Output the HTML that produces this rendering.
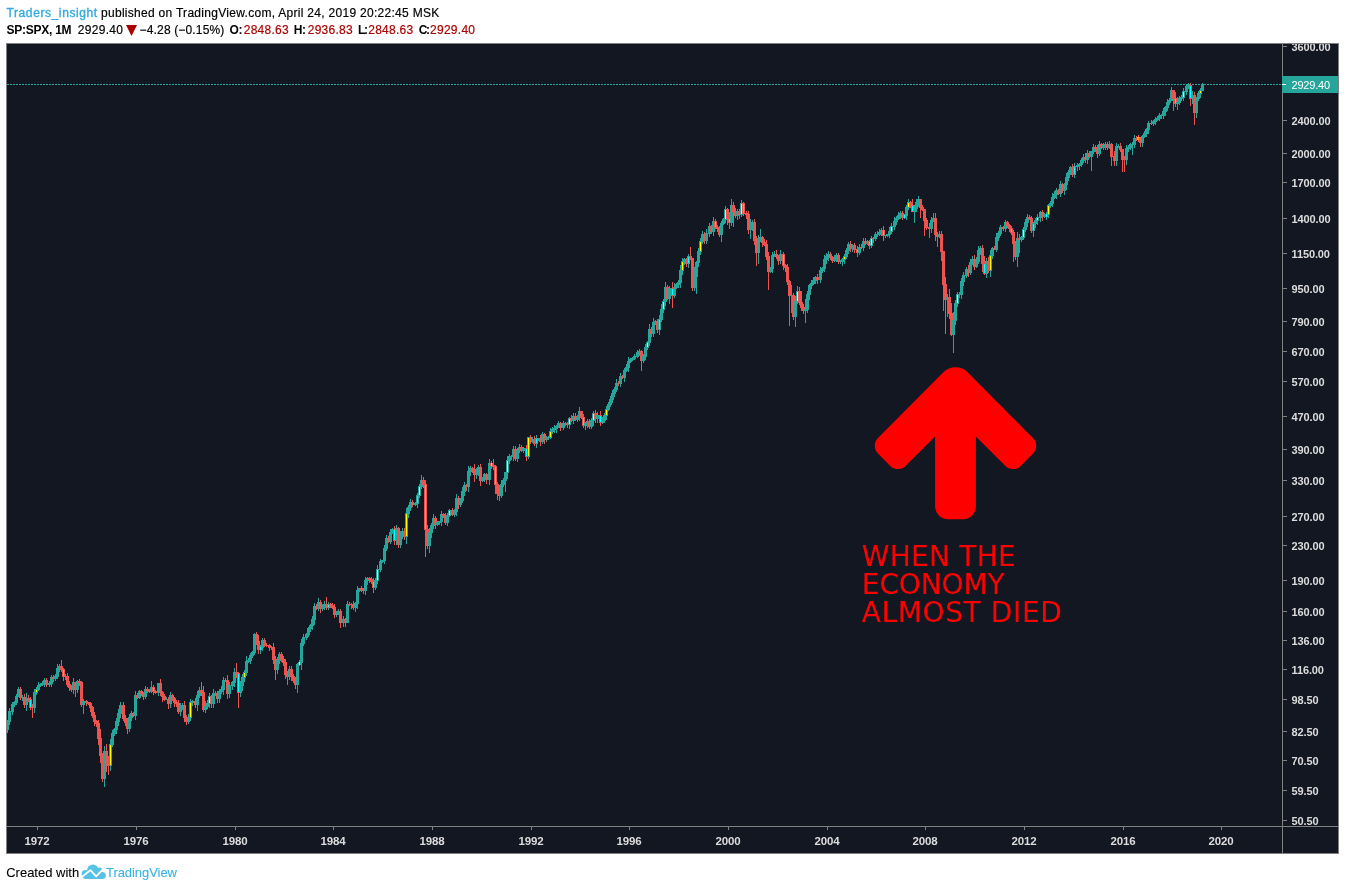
<!DOCTYPE html>
<html><head><meta charset="utf-8"><title>SPX chart</title>
<style>
html,body{margin:0;padding:0;background:#fff}
body{width:1345px;height:890px;position:relative;overflow:hidden;font-family:"Liberation Sans",sans-serif;color:#000}
.h{position:absolute;left:6px;white-space:nowrap;font-size:12px;line-height:16px}
.h span{position:absolute;top:0;white-space:nowrap}
.h span{-webkit-text-stroke:0.18px currentColor} .r{color:#aa0000} .b{font-weight:bold} .h .b{-webkit-text-stroke:0} .h .u{color:#30a9e0;-webkit-text-stroke:0.35px #30a9e0}
</style></head><body>
<div class="h" id="l1" style="top:5px"><span class="u" id="s1" style="left:0.5px;letter-spacing:0.6px">Traders_insight</span><span id="s2" style="left:95px;letter-spacing:0.29px">published on TradingView.com, April 24, 2019 20:22:45 MSK</span></div>
<div class="h" id="l2" style="top:22px"><span class="b" id="s3" style="left:0.5px;letter-spacing:-0.25px">SP:SPX, 1M</span><span id="s4" style="left:71.7px;letter-spacing:0.33px">2929.40</span><span id="s5" style="left:133.6px;letter-spacing:0.15px">−4.28 (−0.15%)</span><span class="b" id="s6" style="left:223.6px;letter-spacing:-0.5px">O:</span><span class="r" id="s7" style="left:237.7px;letter-spacing:0.27px">2848.63</span><span class="b" id="s8" style="left:287.7px;letter-spacing:-0.3px">H:</span><span class="r" id="s9" style="left:301.7px;letter-spacing:0.27px">2936.83</span><span class="b" id="s10" style="left:351.9px;letter-spacing:-1.2px">L:</span><span class="r" id="s11" style="left:362.2px;letter-spacing:0.27px">2848.63</span><span class="b" id="s12" style="left:412.8px;letter-spacing:-1.4px">C:</span><span class="r" id="s13" style="left:424.0px;letter-spacing:0.27px">2929.40</span></div>
<div class="h" id="l3" style="top:865px;font-size:13px"><span id="s14" style="left:0.2px;-webkit-text-stroke:0.08px #000">Created with</span><span class="u" id="s15" style="left:100px;letter-spacing:-0.06px;-webkit-text-stroke:0.1px #3bb3e4;color:#3bb3e4">TradingView</span></div>
<svg width="1345" height="890" viewBox="0 0 1345 890" style="position:absolute;left:0;top:0">
<defs><clipPath id="cp"><rect x="7" y="44" width="1275" height="782"/></clipPath><clipPath id="cpa"><rect x="1283" y="44" width="55" height="782"/></clipPath></defs>
<rect x="6" y="43" width="1333" height="811" fill="#808080"/>
<rect x="7" y="44" width="1331" height="809" fill="#131722"/>
<g clip-path="url(#cp)" shape-rendering="crispEdges">
<path d="M7 84.5H1282" stroke="#26a69a" stroke-width="1" stroke-dasharray="2 1" fill="none"/>
<path d="M5 726h1V732h-1zM4 727h3V730h-3z" fill="#ef5350"/>
<path d="M7 720h1V733h-1zM6 721h3V730h-3z" fill="#26a69a"/>
<path d="M9 708h1V725h-1zM8 711h3V722h-3z" fill="#26a69a"/>
<path d="M12 702h1V715h-1zM11 704h3V712h-3z" fill="#26a69a"/>
<path d="M14 701h1V707h-1zM13 702h3V705h-3z" fill="#26a69a"/>
<path d="M16 694h1V705h-1zM15 696h3V703h-3z" fill="#26a69a"/>
<path d="M18 687h1V697h-1zM17 689h3V697h-3z" fill="#26a69a"/>
<path d="M20 687h1V700h-1zM19 689h3V698h-3z" fill="#ef5350"/>
<path d="M22 695h1V701h-1zM21 697h3V698h-3z" fill="#26a69a"/>
<path d="M24 694h1V708h-1zM23 697h3V705h-3z" fill="#ef5350"/>
<path d="M26 693h1V711h-1zM25 698h3V705h-3z" fill="#26a69a"/>
<path d="M28 695h1V702h-1zM27 698h3V700h-3z" fill="#ef5350"/>
<path d="M30 697h1V710h-1zM29 699h3V708h-3z" fill="#ef5350"/>
<path d="M30 700h1V707h-1z" fill="#00ffff"/>
<path d="M32 704h1V718h-1zM31 707h3V708h-3z" fill="#ef5350"/>
<path d="M34 689h1V713h-1zM33 692h3V708h-3z" fill="#26a69a"/>
<path d="M36 687h1V695h-1zM35 689h3V693h-3z" fill="#26a69a"/>
<path d="M36 690h1V692h-1z" fill="#ffff00"/>
<path d="M38 682h1V691h-1zM37 685h3V690h-3z" fill="#26a69a"/>
<path d="M40 683h1V687h-1zM39 684h3V686h-3z" fill="#26a69a"/>
<path d="M42 681h1V686h-1zM41 683h3V685h-3z" fill="#26a69a"/>
<path d="M44 678h1V687h-1zM43 680h3V684h-3z" fill="#26a69a"/>
<path d="M46 678h1V687h-1zM45 680h3V685h-3z" fill="#ef5350"/>
<path d="M49 681h1V687h-1zM48 683h3V685h-3z" fill="#26a69a"/>
<path d="M51 675h1V687h-1zM50 677h3V684h-3z" fill="#26a69a"/>
<path d="M53 675h1V682h-1zM52 677h3V679h-3z" fill="#ef5350"/>
<path d="M55 674h1V681h-1zM54 676h3V679h-3z" fill="#26a69a"/>
<path d="M57 664h1V679h-1zM56 668h3V677h-3z" fill="#26a69a"/>
<path d="M59 664h1V672h-1zM58 666h3V669h-3z" fill="#26a69a"/>
<path d="M61 660h1V672h-1zM60 666h3V670h-3z" fill="#ef5350"/>
<path d="M63 668h1V681h-1zM62 669h3V677h-3z" fill="#ef5350"/>
<path d="M63 670h1V676h-1z" fill="#00ffff"/>
<path d="M65 674h1V680h-1zM64 676h3V677h-3z" fill="#ef5350"/>
<path d="M67 673h1V687h-1zM66 676h3V685h-3z" fill="#ef5350"/>
<path d="M69 681h1V691h-1zM68 684h3V688h-3z" fill="#ef5350"/>
<path d="M71 685h1V692h-1zM70 687h3V690h-3z" fill="#ef5350"/>
<path d="M73 678h1V694h-1zM72 682h3V690h-3z" fill="#26a69a"/>
<path d="M75 682h1V697h-1zM74 682h3V690h-3z" fill="#ef5350"/>
<path d="M77 680h1V693h-1zM76 681h3V690h-3z" fill="#26a69a"/>
<path d="M79 679h1V686h-1zM78 681h3V683h-3z" fill="#ef5350"/>
<path d="M81 681h1V707h-1zM80 682h3V705h-3z" fill="#ef5350"/>
<path d="M83 699h1V714h-1zM82 701h3V705h-3z" fill="#26a69a"/>
<path d="M86 700h1V706h-1zM85 701h3V703h-3z" fill="#ef5350"/>
<path d="M88 702h1V705h-1zM87 702h3V704h-3z" fill="#ef5350"/>
<path d="M90 702h1V712h-1zM89 703h3V708h-3z" fill="#ef5350"/>
<path d="M92 706h1V718h-1zM91 707h3V716h-3z" fill="#ef5350"/>
<path d="M94 712h1V726h-1zM93 715h3V722h-3z" fill="#ef5350"/>
<path d="M96 720h1V727h-1zM95 721h3V724h-3z" fill="#ef5350"/>
<path d="M98 720h1V745h-1zM97 723h3V739h-3z" fill="#ef5350"/>
<path d="M100 729h1V763h-1zM99 738h3V756h-3z" fill="#ef5350"/>
<path d="M102 753h1V782h-1zM101 755h3V779h-3z" fill="#ef5350"/>
<path d="M104 746h1V787h-1zM103 751h3V779h-3z" fill="#26a69a"/>
<path d="M106 744h1V772h-1zM105 751h3V762h-3z" fill="#ef5350"/>
<path d="M108 756h1V775h-1zM107 761h3V766h-3z" fill="#ef5350"/>
<path d="M110 739h1V771h-1zM109 744h3V766h-3z" fill="#26a69a"/>
<path d="M110 745h1V765h-1z" fill="#ffff00"/>
<path d="M112 730h1V747h-1zM111 733h3V745h-3z" fill="#26a69a"/>
<path d="M114 728h1V736h-1zM113 729h3V734h-3z" fill="#26a69a"/>
<path d="M116 718h1V734h-1zM115 721h3V730h-3z" fill="#26a69a"/>
<path d="M118 709h1V726h-1zM117 713h3V722h-3z" fill="#26a69a"/>
<path d="M120 702h1V718h-1zM119 705h3V714h-3z" fill="#26a69a"/>
<path d="M123 702h1V721h-1zM122 705h3V719h-3z" fill="#ef5350"/>
<path d="M125 715h1V726h-1zM124 718h3V723h-3z" fill="#ef5350"/>
<path d="M127 718h1V734h-1zM126 722h3V729h-3z" fill="#ef5350"/>
<path d="M129 714h1V732h-1zM128 717h3V729h-3z" fill="#26a69a"/>
<path d="M131 711h1V721h-1zM130 713h3V718h-3z" fill="#26a69a"/>
<path d="M133 712h1V717h-1zM132 713h3V716h-3z" fill="#ef5350"/>
<path d="M135 691h1V720h-1zM134 695h3V716h-3z" fill="#26a69a"/>
<path d="M137 693h1V699h-1zM136 695h3V698h-3z" fill="#ef5350"/>
<path d="M139 690h1V699h-1zM138 691h3V698h-3z" fill="#26a69a"/>
<path d="M141 690h1V696h-1zM140 691h3V694h-3z" fill="#ef5350"/>
<path d="M143 692h1V700h-1zM142 693h3V697h-3z" fill="#ef5350"/>
<path d="M145 686h1V699h-1zM144 689h3V697h-3z" fill="#26a69a"/>
<path d="M147 687h1V693h-1zM146 689h3V691h-3z" fill="#ef5350"/>
<path d="M149 689h1V693h-1zM148 690h3V692h-3z" fill="#ef5350"/>
<path d="M151 681h1V693h-1zM150 687h3V692h-3z" fill="#26a69a"/>
<path d="M153 685h1V695h-1zM152 687h3V692h-3z" fill="#ef5350"/>
<path d="M153 688h1V691h-1z" fill="#00ffff"/>
<path d="M155 690h1V694h-1zM154 691h3V693h-3z" fill="#ef5350"/>
<path d="M158 683h1V696h-1zM157 683h3V693h-3z" fill="#26a69a"/>
<path d="M160 679h1V696h-1zM159 683h3V693h-3z" fill="#ef5350"/>
<path d="M162 691h1V702h-1zM161 692h3V697h-3z" fill="#ef5350"/>
<path d="M164 694h1V701h-1zM163 696h3V700h-3z" fill="#ef5350"/>
<path d="M166 697h1V700h-1zM165 699h3V700h-3z" fill="#26a69a"/>
<path d="M168 697h1V709h-1zM167 699h3V704h-3z" fill="#ef5350"/>
<path d="M170 692h1V708h-1zM169 695h3V704h-3z" fill="#26a69a"/>
<path d="M172 694h1V701h-1zM171 695h3V699h-3z" fill="#ef5350"/>
<path d="M174 697h1V707h-1zM173 698h3V703h-3z" fill="#ef5350"/>
<path d="M176 700h1V707h-1zM175 702h3V704h-3z" fill="#ef5350"/>
<path d="M178 700h1V714h-1zM177 703h3V712h-3z" fill="#ef5350"/>
<path d="M180 703h1V716h-1zM179 706h3V712h-3z" fill="#26a69a"/>
<path d="M182 703h1V710h-1zM181 705h3V707h-3z" fill="#26a69a"/>
<path d="M184 701h1V722h-1zM183 705h3V718h-3z" fill="#ef5350"/>
<path d="M186 715h1V725h-1zM185 717h3V722h-3z" fill="#ef5350"/>
<path d="M188 714h1V724h-1zM187 717h3V722h-3z" fill="#26a69a"/>
<path d="M190 699h1V721h-1zM189 702h3V718h-3z" fill="#26a69a"/>
<path d="M190 703h1V717h-1z" fill="#ffff00"/>
<path d="M192 700h1V706h-1zM191 701h3V703h-3z" fill="#26a69a"/>
<path d="M195 698h1V708h-1zM194 701h3V705h-3z" fill="#ef5350"/>
<path d="M197 691h1V711h-1zM196 695h3V705h-3z" fill="#26a69a"/>
<path d="M199 687h1V698h-1zM198 690h3V696h-3z" fill="#26a69a"/>
<path d="M201 682h1V696h-1zM200 690h3V693h-3z" fill="#ef5350"/>
<path d="M203 686h1V712h-1zM202 692h3V710h-3z" fill="#ef5350"/>
<path d="M205 701h1V713h-1zM204 706h3V710h-3z" fill="#26a69a"/>
<path d="M207 700h1V709h-1zM206 703h3V707h-3z" fill="#26a69a"/>
<path d="M209 693h1V708h-1zM208 696h3V704h-3z" fill="#26a69a"/>
<path d="M209 697h1V703h-1z" fill="#ffff00"/>
<path d="M211 695h1V708h-1zM210 696h3V704h-3z" fill="#ef5350"/>
<path d="M213 689h1V708h-1zM212 693h3V704h-3z" fill="#26a69a"/>
<path d="M215 691h1V696h-1zM214 693h3V694h-3z" fill="#26a69a"/>
<path d="M217 691h1V703h-1zM216 693h3V699h-3z" fill="#ef5350"/>
<path d="M219 689h1V703h-1zM218 691h3V699h-3z" fill="#26a69a"/>
<path d="M221 686h1V694h-1zM220 689h3V692h-3z" fill="#26a69a"/>
<path d="M223 677h1V695h-1zM222 680h3V690h-3z" fill="#26a69a"/>
<path d="M225 678h1V682h-1zM224 680h3V681h-3z" fill="#26a69a"/>
<path d="M227 675h1V699h-1zM226 680h3V694h-3z" fill="#ef5350"/>
<path d="M229 682h1V698h-1zM228 685h3V694h-3z" fill="#26a69a"/>
<path d="M232 681h1V690h-1zM231 682h3V686h-3z" fill="#26a69a"/>
<path d="M234 668h1V687h-1zM233 672h3V683h-3z" fill="#26a69a"/>
<path d="M236 663h1V678h-1zM235 672h3V674h-3z" fill="#ef5350"/>
<path d="M238 672h1V708h-1zM237 673h3V693h-3z" fill="#ef5350"/>
<path d="M238 674h1V692h-1z" fill="#00ffff"/>
<path d="M240 681h1V697h-1zM239 685h3V693h-3z" fill="#26a69a"/>
<path d="M242 674h1V691h-1zM241 677h3V686h-3z" fill="#26a69a"/>
<path d="M244 670h1V682h-1zM243 672h3V678h-3z" fill="#26a69a"/>
<path d="M244 673h1V677h-1z" fill="#ffff00"/>
<path d="M246 656h1V676h-1zM245 661h3V673h-3z" fill="#26a69a"/>
<path d="M248 658h1V663h-1zM247 660h3V662h-3z" fill="#26a69a"/>
<path d="M250 653h1V664h-1zM249 655h3V661h-3z" fill="#26a69a"/>
<path d="M252 651h1V658h-1zM251 652h3V656h-3z" fill="#26a69a"/>
<path d="M254 633h1V655h-1zM253 634h3V653h-3z" fill="#26a69a"/>
<path d="M256 632h1V645h-1zM255 634h3V642h-3z" fill="#ef5350"/>
<path d="M258 635h1V654h-1zM257 641h3V650h-3z" fill="#ef5350"/>
<path d="M260 645h1V654h-1zM259 647h3V650h-3z" fill="#26a69a"/>
<path d="M260 647h1V650h-1z" fill="#00ffff"/>
<path d="M262 638h1V651h-1zM261 640h3V648h-3z" fill="#26a69a"/>
<path d="M264 638h1V647h-1zM263 640h3V646h-3z" fill="#ef5350"/>
<path d="M266 643h1V647h-1zM265 645h3V646h-3z" fill="#ef5350"/>
<path d="M269 644h1V651h-1zM268 645h3V648h-3z" fill="#ef5350"/>
<path d="M271 646h1V650h-1zM270 647h3V648h-3z" fill="#ef5350"/>
<path d="M273 643h1V664h-1zM272 647h3V660h-3z" fill="#ef5350"/>
<path d="M275 656h1V680h-1zM274 659h3V670h-3z" fill="#ef5350"/>
<path d="M277 657h1V674h-1zM276 660h3V670h-3z" fill="#26a69a"/>
<path d="M279 652h1V664h-1zM278 654h3V661h-3z" fill="#26a69a"/>
<path d="M281 652h1V662h-1zM280 654h3V660h-3z" fill="#ef5350"/>
<path d="M283 656h1V666h-1zM282 659h3V663h-3z" fill="#ef5350"/>
<path d="M285 659h1V679h-1zM284 662h3V675h-3z" fill="#ef5350"/>
<path d="M287 671h1V685h-1zM286 674h3V677h-3z" fill="#ef5350"/>
<path d="M289 666h1V680h-1zM288 669h3V677h-3z" fill="#26a69a"/>
<path d="M291 666h1V681h-1zM290 669h3V677h-3z" fill="#ef5350"/>
<path d="M293 674h1V683h-1zM292 676h3V681h-3z" fill="#ef5350"/>
<path d="M295 677h1V689h-1zM294 680h3V685h-3z" fill="#ef5350"/>
<path d="M297 663h1V693h-1zM296 664h3V685h-3z" fill="#26a69a"/>
<path d="M299 660h1V666h-1zM298 662h3V665h-3z" fill="#26a69a"/>
<path d="M299 662h1V665h-1z" fill="#ffff00"/>
<path d="M301 639h1V670h-1zM300 643h3V663h-3z" fill="#26a69a"/>
<path d="M303 634h1V646h-1zM302 637h3V644h-3z" fill="#26a69a"/>
<path d="M306 633h1V640h-1zM305 634h3V638h-3z" fill="#26a69a"/>
<path d="M308 627h1V637h-1zM307 628h3V635h-3z" fill="#26a69a"/>
<path d="M310 624h1V632h-1zM309 625h3V629h-3z" fill="#26a69a"/>
<path d="M312 616h1V630h-1zM311 619h3V626h-3z" fill="#26a69a"/>
<path d="M314 603h1V625h-1zM313 606h3V620h-3z" fill="#26a69a"/>
<path d="M316 604h1V610h-1zM315 606h3V609h-3z" fill="#ef5350"/>
<path d="M318 598h1V611h-1zM317 602h3V609h-3z" fill="#26a69a"/>
<path d="M320 600h1V613h-1zM319 602h3V609h-3z" fill="#ef5350"/>
<path d="M322 604h1V611h-1zM321 606h3V609h-3z" fill="#26a69a"/>
<path d="M324 601h1V610h-1zM323 604h3V607h-3z" fill="#26a69a"/>
<path d="M326 597h1V610h-1zM325 604h3V608h-3z" fill="#ef5350"/>
<path d="M328 602h1V610h-1zM327 604h3V608h-3z" fill="#26a69a"/>
<path d="M328 605h1V607h-1z" fill="#00ffff"/>
<path d="M330 603h1V608h-1zM329 604h3V606h-3z" fill="#ef5350"/>
<path d="M332 603h1V609h-1zM331 605h3V608h-3z" fill="#ef5350"/>
<path d="M334 604h1V618h-1zM333 607h3V615h-3z" fill="#ef5350"/>
<path d="M336 611h1V617h-1zM335 612h3V615h-3z" fill="#26a69a"/>
<path d="M338 609h1V615h-1zM337 611h3V613h-3z" fill="#26a69a"/>
<path d="M340 609h1V628h-1zM339 611h3V623h-3z" fill="#ef5350"/>
<path d="M343 616h1V627h-1zM342 619h3V623h-3z" fill="#26a69a"/>
<path d="M345 618h1V627h-1zM344 619h3V623h-3z" fill="#ef5350"/>
<path d="M347 601h1V623h-1zM346 604h3V623h-3z" fill="#26a69a"/>
<path d="M349 602h1V606h-1zM348 604h3V605h-3z" fill="#ef5350"/>
<path d="M351 603h1V609h-1zM350 604h3V605h-3z" fill="#ef5350"/>
<path d="M353 601h1V610h-1zM352 604h3V608h-3z" fill="#ef5350"/>
<path d="M355 602h1V612h-1zM354 603h3V608h-3z" fill="#26a69a"/>
<path d="M357 586h1V609h-1zM356 590h3V604h-3z" fill="#26a69a"/>
<path d="M359 588h1V592h-1zM358 588h3V591h-3z" fill="#26a69a"/>
<path d="M361 586h1V592h-1zM360 588h3V590h-3z" fill="#ef5350"/>
<path d="M363 588h1V594h-1zM362 589h3V591h-3z" fill="#ef5350"/>
<path d="M365 577h1V595h-1zM364 580h3V591h-3z" fill="#26a69a"/>
<path d="M367 577h1V585h-1zM366 578h3V581h-3z" fill="#26a69a"/>
<path d="M369 577h1V583h-1zM368 578h3V580h-3z" fill="#ef5350"/>
<path d="M371 577h1V584h-1zM370 579h3V582h-3z" fill="#ef5350"/>
<path d="M373 578h1V593h-1zM372 581h3V588h-3z" fill="#ef5350"/>
<path d="M373 582h1V587h-1z" fill="#00ffff"/>
<path d="M375 578h1V590h-1zM374 580h3V588h-3z" fill="#26a69a"/>
<path d="M377 565h1V584h-1zM376 569h3V581h-3z" fill="#26a69a"/>
<path d="M377 570h1V580h-1z" fill="#ffff00"/>
<path d="M380 559h1V572h-1zM379 561h3V570h-3z" fill="#26a69a"/>
<path d="M382 560h1V563h-1zM381 560h3V562h-3z" fill="#26a69a"/>
<path d="M384 545h1V564h-1zM383 548h3V561h-3z" fill="#26a69a"/>
<path d="M386 535h1V551h-1zM385 538h3V549h-3z" fill="#26a69a"/>
<path d="M388 536h1V543h-1zM387 538h3V542h-3z" fill="#ef5350"/>
<path d="M390 529h1V544h-1zM389 532h3V542h-3z" fill="#26a69a"/>
<path d="M392 528h1V534h-1zM391 529h3V533h-3z" fill="#26a69a"/>
<path d="M394 526h1V545h-1zM393 529h3V541h-3z" fill="#ef5350"/>
<path d="M394 530h1V540h-1z" fill="#00ffff"/>
<path d="M396 525h1V545h-1zM395 528h3V541h-3z" fill="#26a69a"/>
<path d="M398 527h1V548h-1zM397 528h3V545h-3z" fill="#ef5350"/>
<path d="M400 531h1V548h-1zM399 534h3V545h-3z" fill="#26a69a"/>
<path d="M402 528h1V539h-1zM401 531h3V535h-3z" fill="#26a69a"/>
<path d="M404 528h1V540h-1zM403 531h3V537h-3z" fill="#ef5350"/>
<path d="M406 508h1V544h-1zM405 513h3V537h-3z" fill="#26a69a"/>
<path d="M406 514h1V536h-1z" fill="#ffff00"/>
<path d="M408 505h1V518h-1zM407 507h3V514h-3z" fill="#26a69a"/>
<path d="M410 499h1V511h-1zM409 502h3V508h-3z" fill="#26a69a"/>
<path d="M412 500h1V507h-1zM411 502h3V505h-3z" fill="#ef5350"/>
<path d="M415 502h1V506h-1zM414 503h3V505h-3z" fill="#26a69a"/>
<path d="M417 493h1V508h-1zM416 495h3V504h-3z" fill="#26a69a"/>
<path d="M417 496h1V503h-1z" fill="#00ffff"/>
<path d="M419 484h1V498h-1zM418 486h3V496h-3z" fill="#26a69a"/>
<path d="M419 487h1V495h-1z" fill="#ffff00"/>
<path d="M421 475h1V489h-1zM420 480h3V487h-3z" fill="#26a69a"/>
<path d="M423 477h1V488h-1zM422 480h3V485h-3z" fill="#ef5350"/>
<path d="M425 480h1V557h-1zM424 484h3V530h-3z" fill="#ef5350"/>
<path d="M425 485h1V529h-1z" fill="#00ffff"/>
<path d="M427 525h1V549h-1zM426 529h3V546h-3z" fill="#ef5350"/>
<path d="M429 528h1V553h-1zM428 532h3V546h-3z" fill="#26a69a"/>
<path d="M431 523h1V538h-1zM430 525h3V533h-3z" fill="#26a69a"/>
<path d="M433 514h1V529h-1zM432 518h3V526h-3z" fill="#26a69a"/>
<path d="M435 516h1V529h-1zM434 518h3V525h-3z" fill="#ef5350"/>
<path d="M437 521h1V526h-1zM436 522h3V525h-3z" fill="#26a69a"/>
<path d="M439 521h1V525h-1zM438 521h3V523h-3z" fill="#26a69a"/>
<path d="M441 511h1V526h-1zM440 514h3V522h-3z" fill="#26a69a"/>
<path d="M443 513h1V518h-1zM442 514h3V516h-3z" fill="#ef5350"/>
<path d="M445 513h1V525h-1zM444 515h3V523h-3z" fill="#ef5350"/>
<path d="M447 513h1V526h-1zM446 515h3V523h-3z" fill="#26a69a"/>
<path d="M449 509h1V517h-1zM448 510h3V516h-3z" fill="#26a69a"/>
<path d="M449 511h1V515h-1z" fill="#ffff00"/>
<path d="M452 508h1V516h-1zM451 510h3V515h-3z" fill="#ef5350"/>
<path d="M454 509h1V517h-1zM453 511h3V515h-3z" fill="#26a69a"/>
<path d="M456 494h1V516h-1zM455 498h3V512h-3z" fill="#26a69a"/>
<path d="M458 496h1V509h-1zM457 498h3V505h-3z" fill="#ef5350"/>
<path d="M460 498h1V507h-1zM459 500h3V505h-3z" fill="#26a69a"/>
<path d="M462 487h1V503h-1zM461 491h3V501h-3z" fill="#26a69a"/>
<path d="M464 482h1V496h-1zM463 485h3V492h-3z" fill="#26a69a"/>
<path d="M466 484h1V491h-1zM465 485h3V487h-3z" fill="#ef5350"/>
<path d="M468 466h1V492h-1zM467 471h3V487h-3z" fill="#26a69a"/>
<path d="M470 466h1V476h-1zM469 468h3V472h-3z" fill="#26a69a"/>
<path d="M472 467h1V473h-1zM471 468h3V470h-3z" fill="#ef5350"/>
<path d="M474 464h1V482h-1zM473 469h3V475h-3z" fill="#ef5350"/>
<path d="M476 468h1V479h-1zM475 471h3V475h-3z" fill="#26a69a"/>
<path d="M478 465h1V476h-1zM477 467h3V472h-3z" fill="#26a69a"/>
<path d="M480 464h1V486h-1zM479 467h3V481h-3z" fill="#ef5350"/>
<path d="M482 477h1V482h-1zM481 479h3V481h-3z" fill="#26a69a"/>
<path d="M484 473h1V482h-1zM483 474h3V480h-3z" fill="#26a69a"/>
<path d="M486 473h1V484h-1zM485 474h3V480h-3z" fill="#ef5350"/>
<path d="M489 459h1V485h-1zM488 463h3V480h-3z" fill="#26a69a"/>
<path d="M491 461h1V469h-1zM490 463h3V466h-3z" fill="#ef5350"/>
<path d="M491 463h1V466h-1z" fill="#ffff00"/>
<path d="M493 459h1V470h-1zM492 465h3V467h-3z" fill="#ef5350"/>
<path d="M495 465h1V494h-1zM494 466h3V485h-3z" fill="#ef5350"/>
<path d="M495 467h1V484h-1z" fill="#00ffff"/>
<path d="M497 482h1V500h-1zM496 484h3V494h-3z" fill="#ef5350"/>
<path d="M499 485h1V501h-1zM498 493h3V496h-3z" fill="#ef5350"/>
<path d="M501 480h1V498h-1zM500 484h3V496h-3z" fill="#26a69a"/>
<path d="M503 478h1V487h-1zM502 480h3V485h-3z" fill="#26a69a"/>
<path d="M505 472h1V492h-1zM504 472h3V481h-3z" fill="#26a69a"/>
<path d="M507 456h1V479h-1zM506 460h3V473h-3z" fill="#26a69a"/>
<path d="M507 461h1V472h-1z" fill="#ffff00"/>
<path d="M509 454h1V464h-1zM508 456h3V461h-3z" fill="#26a69a"/>
<path d="M511 455h1V460h-1zM510 456h3V457h-3z" fill="#26a69a"/>
<path d="M513 446h1V461h-1zM512 449h3V457h-3z" fill="#26a69a"/>
<path d="M515 446h1V461h-1zM514 449h3V459h-3z" fill="#ef5350"/>
<path d="M517 448h1V462h-1zM516 450h3V459h-3z" fill="#26a69a"/>
<path d="M519 444h1V453h-1zM518 447h3V451h-3z" fill="#26a69a"/>
<path d="M521 445h1V452h-1zM520 447h3V451h-3z" fill="#ef5350"/>
<path d="M523 447h1V453h-1zM522 448h3V451h-3z" fill="#26a69a"/>
<path d="M526 445h1V461h-1zM525 448h3V457h-3z" fill="#ef5350"/>
<path d="M526 449h1V456h-1z" fill="#00ffff"/>
<path d="M528 437h1V459h-1zM527 437h3V457h-3z" fill="#26a69a"/>
<path d="M528 438h1V456h-1z" fill="#ffff00"/>
<path d="M530 435h1V444h-1zM529 437h3V442h-3z" fill="#ef5350"/>
<path d="M532 437h1V443h-1zM531 439h3V442h-3z" fill="#26a69a"/>
<path d="M534 436h1V446h-1zM533 439h3V444h-3z" fill="#ef5350"/>
<path d="M536 435h1V448h-1zM535 438h3V444h-3z" fill="#26a69a"/>
<path d="M536 439h1V443h-1z" fill="#00ffff"/>
<path d="M538 438h1V441h-1zM537 438h3V439h-3z" fill="#26a69a"/>
<path d="M540 435h1V446h-1zM539 438h3V442h-3z" fill="#ef5350"/>
<path d="M542 432h1V444h-1zM541 434h3V442h-3z" fill="#26a69a"/>
<path d="M544 433h1V444h-1zM543 434h3V440h-3z" fill="#ef5350"/>
<path d="M546 436h1V442h-1zM545 437h3V440h-3z" fill="#26a69a"/>
<path d="M548 436h1V440h-1zM547 437h3V438h-3z" fill="#26a69a"/>
<path d="M550 428h1V439h-1zM549 431h3V438h-3z" fill="#26a69a"/>
<path d="M550 432h1V437h-1z" fill="#ffff00"/>
<path d="M552 427h1V434h-1zM551 429h3V432h-3z" fill="#26a69a"/>
<path d="M554 425h1V433h-1zM553 428h3V430h-3z" fill="#26a69a"/>
<path d="M556 425h1V433h-1zM555 426h3V429h-3z" fill="#26a69a"/>
<path d="M558 421h1V428h-1zM557 423h3V427h-3z" fill="#26a69a"/>
<path d="M560 422h1V431h-1zM559 423h3V428h-3z" fill="#ef5350"/>
<path d="M563 421h1V430h-1zM562 423h3V428h-3z" fill="#26a69a"/>
<path d="M565 422h1V426h-1zM564 423h3V424h-3z" fill="#26a69a"/>
<path d="M567 422h1V428h-1zM566 423h3V425h-3z" fill="#ef5350"/>
<path d="M569 417h1V429h-1zM568 418h3V425h-3z" fill="#26a69a"/>
<path d="M569 419h1V424h-1z" fill="#ffff00"/>
<path d="M571 415h1V422h-1zM570 418h3V421h-3z" fill="#ef5350"/>
<path d="M573 413h1V424h-1zM572 416h3V421h-3z" fill="#26a69a"/>
<path d="M575 413h1V421h-1zM574 416h3V420h-3z" fill="#ef5350"/>
<path d="M577 415h1V422h-1zM576 417h3V420h-3z" fill="#26a69a"/>
<path d="M579 407h1V421h-1zM578 411h3V418h-3z" fill="#26a69a"/>
<path d="M581 411h1V419h-1zM580 411h3V418h-3z" fill="#ef5350"/>
<path d="M583 414h1V428h-1zM582 417h3V426h-3z" fill="#ef5350"/>
<path d="M583 418h1V425h-1z" fill="#00ffff"/>
<path d="M585 422h1V430h-1zM584 423h3V426h-3z" fill="#26a69a"/>
<path d="M587 419h1V428h-1zM586 421h3V424h-3z" fill="#26a69a"/>
<path d="M589 419h1V429h-1zM588 421h3V427h-3z" fill="#ef5350"/>
<path d="M591 418h1V429h-1zM590 420h3V427h-3z" fill="#26a69a"/>
<path d="M593 411h1V426h-1zM592 413h3V421h-3z" fill="#26a69a"/>
<path d="M593 414h1V420h-1z" fill="#ffff00"/>
<path d="M595 410h1V423h-1zM594 413h3V419h-3z" fill="#ef5350"/>
<path d="M597 412h1V423h-1zM596 415h3V419h-3z" fill="#26a69a"/>
<path d="M600 411h1V426h-1zM599 415h3V423h-3z" fill="#ef5350"/>
<path d="M600 416h1V422h-1z" fill="#00ffff"/>
<path d="M602 417h1V424h-1zM601 420h3V423h-3z" fill="#26a69a"/>
<path d="M604 413h1V423h-1zM603 415h3V421h-3z" fill="#26a69a"/>
<path d="M606 406h1V420h-1zM605 409h3V416h-3z" fill="#26a69a"/>
<path d="M606 410h1V415h-1z" fill="#ffff00"/>
<path d="M608 402h1V411h-1zM607 404h3V410h-3z" fill="#26a69a"/>
<path d="M610 396h1V407h-1zM609 399h3V405h-3z" fill="#26a69a"/>
<path d="M612 390h1V403h-1zM611 393h3V400h-3z" fill="#26a69a"/>
<path d="M614 387h1V397h-1zM613 389h3V394h-3z" fill="#26a69a"/>
<path d="M616 379h1V392h-1zM615 383h3V390h-3z" fill="#26a69a"/>
<path d="M618 381h1V386h-1zM617 383h3V384h-3z" fill="#ef5350"/>
<path d="M620 373h1V387h-1zM619 376h3V384h-3z" fill="#26a69a"/>
<path d="M622 375h1V379h-1zM621 376h3V378h-3z" fill="#ef5350"/>
<path d="M624 368h1V382h-1zM623 370h3V378h-3z" fill="#26a69a"/>
<path d="M626 364h1V372h-1zM625 367h3V371h-3z" fill="#26a69a"/>
<path d="M628 357h1V372h-1zM627 361h3V368h-3z" fill="#26a69a"/>
<path d="M630 358h1V363h-1zM629 359h3V362h-3z" fill="#26a69a"/>
<path d="M632 357h1V361h-1zM631 358h3V360h-3z" fill="#26a69a"/>
<path d="M634 354h1V360h-1zM633 356h3V359h-3z" fill="#26a69a"/>
<path d="M637 350h1V358h-1zM636 352h3V357h-3z" fill="#26a69a"/>
<path d="M639 349h1V356h-1zM638 351h3V353h-3z" fill="#26a69a"/>
<path d="M641 350h1V371h-1zM640 351h3V361h-3z" fill="#ef5350"/>
<path d="M643 354h1V363h-1zM642 356h3V361h-3z" fill="#26a69a"/>
<path d="M645 344h1V360h-1zM644 347h3V357h-3z" fill="#26a69a"/>
<path d="M647 341h1V350h-1zM646 342h3V348h-3z" fill="#26a69a"/>
<path d="M647 343h1V347h-1z" fill="#ffff00"/>
<path d="M649 324h1V346h-1zM648 329h3V343h-3z" fill="#26a69a"/>
<path d="M651 327h1V337h-1zM650 329h3V334h-3z" fill="#ef5350"/>
<path d="M653 318h1V337h-1zM652 322h3V334h-3z" fill="#26a69a"/>
<path d="M655 320h1V325h-1zM654 321h3V323h-3z" fill="#26a69a"/>
<path d="M657 319h1V333h-1zM656 321h3V330h-3z" fill="#ef5350"/>
<path d="M659 315h1V335h-1zM658 319h3V330h-3z" fill="#26a69a"/>
<path d="M659 320h1V329h-1z" fill="#00ffff"/>
<path d="M661 304h1V322h-1zM660 309h3V320h-3z" fill="#26a69a"/>
<path d="M663 299h1V313h-1zM662 301h3V310h-3z" fill="#26a69a"/>
<path d="M663 302h1V309h-1z" fill="#ffff00"/>
<path d="M665 282h1V306h-1zM664 287h3V302h-3z" fill="#26a69a"/>
<path d="M667 285h1V300h-1zM666 287h3V299h-3z" fill="#ef5350"/>
<path d="M669 286h1V304h-1zM668 288h3V299h-3z" fill="#26a69a"/>
<path d="M672 282h1V308h-1zM671 288h3V296h-3z" fill="#ef5350"/>
<path d="M672 289h1V295h-1z" fill="#00ffff"/>
<path d="M674 283h1V298h-1zM673 287h3V296h-3z" fill="#26a69a"/>
<path d="M676 283h1V289h-1zM675 284h3V288h-3z" fill="#26a69a"/>
<path d="M678 280h1V288h-1zM677 282h3V285h-3z" fill="#26a69a"/>
<path d="M680 265h1V288h-1zM679 270h3V283h-3z" fill="#26a69a"/>
<path d="M682 258h1V275h-1zM681 261h3V271h-3z" fill="#26a69a"/>
<path d="M682 262h1V270h-1z" fill="#ffff00"/>
<path d="M684 258h1V265h-1zM683 259h3V262h-3z" fill="#26a69a"/>
<path d="M686 258h1V267h-1zM685 259h3V264h-3z" fill="#ef5350"/>
<path d="M688 254h1V268h-1zM687 256h3V264h-3z" fill="#26a69a"/>
<path d="M688 257h1V263h-1z" fill="#00ffff"/>
<path d="M690 247h1V260h-1zM689 256h3V259h-3z" fill="#ef5350"/>
<path d="M692 258h1V291h-1zM691 258h3V288h-3z" fill="#ef5350"/>
<path d="M694 267h1V291h-1zM693 276h3V288h-3z" fill="#26a69a"/>
<path d="M696 261h1V294h-1zM695 262h3V277h-3z" fill="#26a69a"/>
<path d="M698 248h1V267h-1zM697 251h3V263h-3z" fill="#26a69a"/>
<path d="M700 238h1V255h-1zM699 241h3V252h-3z" fill="#26a69a"/>
<path d="M700 242h1V251h-1z" fill="#ffff00"/>
<path d="M702 231h1V244h-1zM701 234h3V242h-3z" fill="#26a69a"/>
<path d="M704 232h1V244h-1zM703 234h3V241h-3z" fill="#ef5350"/>
<path d="M706 229h1V244h-1zM705 233h3V241h-3z" fill="#26a69a"/>
<path d="M709 223h1V237h-1zM708 226h3V234h-3z" fill="#26a69a"/>
<path d="M711 225h1V234h-1zM710 226h3V232h-3z" fill="#ef5350"/>
<path d="M713 217h1V236h-1zM712 221h3V232h-3z" fill="#26a69a"/>
<path d="M715 219h1V229h-1zM714 221h3V228h-3z" fill="#ef5350"/>
<path d="M715 222h1V227h-1z" fill="#00ffff"/>
<path d="M717 225h1V232h-1zM716 227h3V229h-3z" fill="#ef5350"/>
<path d="M719 226h1V237h-1zM718 228h3V235h-3z" fill="#ef5350"/>
<path d="M721 221h1V242h-1zM720 223h3V235h-3z" fill="#26a69a"/>
<path d="M723 218h1V225h-1zM722 219h3V224h-3z" fill="#26a69a"/>
<path d="M725 206h1V223h-1zM724 209h3V220h-3z" fill="#26a69a"/>
<path d="M725 210h1V219h-1z" fill="#ffff00"/>
<path d="M727 208h1V225h-1zM726 209h3V219h-3z" fill="#ef5350"/>
<path d="M729 212h1V229h-1zM728 218h3V223h-3z" fill="#ef5350"/>
<path d="M729 219h1V222h-1z" fill="#00ffff"/>
<path d="M731 199h1V226h-1zM730 205h3V223h-3z" fill="#26a69a"/>
<path d="M733 202h1V227h-1zM732 205h3V212h-3z" fill="#ef5350"/>
<path d="M735 208h1V218h-1zM734 211h3V216h-3z" fill="#ef5350"/>
<path d="M737 209h1V220h-1zM736 211h3V216h-3z" fill="#26a69a"/>
<path d="M739 209h1V219h-1zM738 211h3V215h-3z" fill="#ef5350"/>
<path d="M741 200h1V217h-1zM740 203h3V215h-3z" fill="#26a69a"/>
<path d="M741 204h1V214h-1z" fill="#ffff00"/>
<path d="M743 202h1V216h-1zM742 203h3V214h-3z" fill="#ef5350"/>
<path d="M743 204h1V213h-1z" fill="#00ffff"/>
<path d="M746 211h1V219h-1zM745 213h3V215h-3z" fill="#ef5350"/>
<path d="M748 211h1V234h-1zM747 214h3V230h-3z" fill="#ef5350"/>
<path d="M750 219h1V239h-1zM749 228h3V230h-3z" fill="#26a69a"/>
<path d="M752 220h1V231h-1zM751 222h3V229h-3z" fill="#26a69a"/>
<path d="M754 219h1V245h-1zM753 222h3V241h-3z" fill="#ef5350"/>
<path d="M756 236h1V266h-1zM755 240h3V253h-3z" fill="#ef5350"/>
<path d="M758 235h1V264h-1zM757 238h3V253h-3z" fill="#26a69a"/>
<path d="M760 229h1V242h-1zM759 237h3V239h-3z" fill="#26a69a"/>
<path d="M762 236h1V247h-1zM761 237h3V243h-3z" fill="#ef5350"/>
<path d="M764 239h1V246h-1zM763 242h3V245h-3z" fill="#ef5350"/>
<path d="M766 240h1V260h-1zM765 244h3V257h-3z" fill="#ef5350"/>
<path d="M768 252h1V290h-1zM767 256h3V272h-3z" fill="#ef5350"/>
<path d="M770 267h1V273h-1zM769 268h3V272h-3z" fill="#26a69a"/>
<path d="M772 252h1V273h-1zM771 255h3V269h-3z" fill="#26a69a"/>
<path d="M774 251h1V257h-1zM773 254h3V256h-3z" fill="#26a69a"/>
<path d="M776 250h1V259h-1zM775 254h3V257h-3z" fill="#ef5350"/>
<path d="M778 255h1V265h-1zM777 256h3V261h-3z" fill="#ef5350"/>
<path d="M780 250h1V264h-1zM779 254h3V261h-3z" fill="#26a69a"/>
<path d="M783 252h1V270h-1zM782 254h3V266h-3z" fill="#ef5350"/>
<path d="M783 255h1V265h-1z" fill="#00ffff"/>
<path d="M785 264h1V272h-1zM784 265h3V268h-3z" fill="#ef5350"/>
<path d="M787 264h1V285h-1zM786 267h3V282h-3z" fill="#ef5350"/>
<path d="M789 280h1V326h-1zM788 281h3V296h-3z" fill="#ef5350"/>
<path d="M791 285h1V313h-1zM790 295h3V296h-3z" fill="#26a69a"/>
<path d="M793 293h1V320h-1zM792 295h3V317h-3z" fill="#ef5350"/>
<path d="M795 296h1V327h-1zM794 301h3V317h-3z" fill="#26a69a"/>
<path d="M797 286h1V304h-1zM796 291h3V302h-3z" fill="#26a69a"/>
<path d="M797 292h1V301h-1z" fill="#ffff00"/>
<path d="M799 287h1V305h-1zM798 291h3V303h-3z" fill="#ef5350"/>
<path d="M801 291h1V311h-1zM800 302h3V308h-3z" fill="#ef5350"/>
<path d="M803 304h1V314h-1zM802 307h3V311h-3z" fill="#ef5350"/>
<path d="M805 299h1V323h-1zM804 309h3V311h-3z" fill="#26a69a"/>
<path d="M807 291h1V313h-1zM806 294h3V310h-3z" fill="#26a69a"/>
<path d="M809 284h1V300h-1zM808 285h3V295h-3z" fill="#26a69a"/>
<path d="M811 280h1V289h-1zM810 283h3V286h-3z" fill="#26a69a"/>
<path d="M813 277h1V285h-1zM812 280h3V284h-3z" fill="#26a69a"/>
<path d="M815 276h1V284h-1zM814 277h3V281h-3z" fill="#26a69a"/>
<path d="M817 274h1V284h-1zM816 277h3V280h-3z" fill="#ef5350"/>
<path d="M820 267h1V283h-1zM819 270h3V280h-3z" fill="#26a69a"/>
<path d="M822 267h1V273h-1zM821 268h3V271h-3z" fill="#26a69a"/>
<path d="M824 255h1V272h-1zM823 259h3V269h-3z" fill="#26a69a"/>
<path d="M826 253h1V264h-1zM825 256h3V260h-3z" fill="#26a69a"/>
<path d="M828 251h1V261h-1zM827 254h3V257h-3z" fill="#26a69a"/>
<path d="M830 252h1V260h-1zM829 254h3V258h-3z" fill="#ef5350"/>
<path d="M832 256h1V263h-1zM831 257h3V261h-3z" fill="#ef5350"/>
<path d="M834 255h1V262h-1zM833 258h3V261h-3z" fill="#26a69a"/>
<path d="M836 253h1V262h-1zM835 255h3V259h-3z" fill="#26a69a"/>
<path d="M838 253h1V264h-1zM837 255h3V262h-3z" fill="#ef5350"/>
<path d="M840 260h1V264h-1zM839 261h3V262h-3z" fill="#26a69a"/>
<path d="M842 258h1V266h-1zM841 259h3V262h-3z" fill="#26a69a"/>
<path d="M844 254h1V264h-1zM843 256h3V260h-3z" fill="#26a69a"/>
<path d="M844 257h1V259h-1z" fill="#ffff00"/>
<path d="M846 248h1V259h-1zM845 250h3V257h-3z" fill="#26a69a"/>
<path d="M848 242h1V254h-1zM847 244h3V251h-3z" fill="#26a69a"/>
<path d="M850 241h1V252h-1zM849 244h3V249h-3z" fill="#ef5350"/>
<path d="M852 244h1V252h-1zM851 245h3V249h-3z" fill="#26a69a"/>
<path d="M854 243h1V253h-1zM853 245h3V250h-3z" fill="#ef5350"/>
<path d="M857 246h1V257h-1zM856 249h3V253h-3z" fill="#ef5350"/>
<path d="M857 250h1V252h-1z" fill="#00ffff"/>
<path d="M859 244h1V255h-1zM858 247h3V253h-3z" fill="#26a69a"/>
<path d="M861 244h1V249h-1zM860 247h3V248h-3z" fill="#ef5350"/>
<path d="M863 238h1V251h-1zM862 241h3V248h-3z" fill="#26a69a"/>
<path d="M865 238h1V245h-1zM864 241h3V244h-3z" fill="#ef5350"/>
<path d="M867 240h1V245h-1zM866 241h3V244h-3z" fill="#26a69a"/>
<path d="M869 240h1V249h-1zM868 241h3V246h-3z" fill="#ef5350"/>
<path d="M869 242h1V245h-1z" fill="#00ffff"/>
<path d="M871 236h1V248h-1zM870 238h3V246h-3z" fill="#26a69a"/>
<path d="M871 239h1V245h-1z" fill="#ffff00"/>
<path d="M873 237h1V243h-1zM872 238h3V239h-3z" fill="#ef5350"/>
<path d="M875 232h1V241h-1zM874 234h3V239h-3z" fill="#26a69a"/>
<path d="M877 231h1V237h-1zM876 234h3V235h-3z" fill="#26a69a"/>
<path d="M879 229h1V236h-1zM878 232h3V235h-3z" fill="#26a69a"/>
<path d="M881 228h1V236h-1zM880 230h3V233h-3z" fill="#26a69a"/>
<path d="M883 226h1V241h-1zM882 230h3V236h-3z" fill="#ef5350"/>
<path d="M883 231h1V235h-1z" fill="#00ffff"/>
<path d="M885 235h1V238h-1zM884 235h3V236h-3z" fill="#26a69a"/>
<path d="M887 234h1V237h-1zM886 234h3V236h-3z" fill="#26a69a"/>
<path d="M889 227h1V238h-1zM888 231h3V235h-3z" fill="#26a69a"/>
<path d="M891 223h1V234h-1zM890 226h3V232h-3z" fill="#26a69a"/>
<path d="M891 227h1V231h-1z" fill="#ffff00"/>
<path d="M894 217h1V230h-1zM893 221h3V227h-3z" fill="#26a69a"/>
<path d="M896 216h1V225h-1zM895 218h3V222h-3z" fill="#26a69a"/>
<path d="M898 212h1V220h-1zM897 215h3V219h-3z" fill="#26a69a"/>
<path d="M900 211h1V219h-1zM899 213h3V216h-3z" fill="#26a69a"/>
<path d="M902 211h1V220h-1zM901 213h3V218h-3z" fill="#ef5350"/>
<path d="M904 214h1V219h-1zM903 215h3V218h-3z" fill="#26a69a"/>
<path d="M904 215h1V218h-1z" fill="#00ffff"/>
<path d="M906 205h1V220h-1zM905 207h3V216h-3z" fill="#26a69a"/>
<path d="M908 199h1V210h-1zM907 202h3V208h-3z" fill="#26a69a"/>
<path d="M908 203h1V207h-1z" fill="#ffff00"/>
<path d="M910 201h1V208h-1zM909 202h3V206h-3z" fill="#ef5350"/>
<path d="M912 199h1V212h-1zM911 205h3V212h-3z" fill="#ef5350"/>
<path d="M912 206h1V211h-1z" fill="#00ffff"/>
<path d="M914 205h1V223h-1zM913 208h3V212h-3z" fill="#26a69a"/>
<path d="M916 199h1V212h-1zM915 202h3V209h-3z" fill="#26a69a"/>
<path d="M918 196h1V207h-1zM917 199h3V203h-3z" fill="#26a69a"/>
<path d="M920 199h1V218h-1zM919 199h3V208h-3z" fill="#ef5350"/>
<path d="M922 205h1V211h-1zM921 207h3V210h-3z" fill="#ef5350"/>
<path d="M924 209h1V236h-1zM923 209h3V221h-3z" fill="#ef5350"/>
<path d="M926 218h1V230h-1zM925 220h3V228h-3z" fill="#ef5350"/>
<path d="M929 223h1V238h-1zM928 227h3V229h-3z" fill="#ef5350"/>
<path d="M931 217h1V233h-1zM930 220h3V229h-3z" fill="#26a69a"/>
<path d="M933 213h1V222h-1zM932 218h3V221h-3z" fill="#26a69a"/>
<path d="M935 213h1V241h-1zM934 218h3V235h-3z" fill="#ef5350"/>
<path d="M937 232h1V247h-1zM936 234h3V237h-3z" fill="#ef5350"/>
<path d="M939 231h1V238h-1zM938 234h3V237h-3z" fill="#26a69a"/>
<path d="M941 231h1V261h-1zM940 234h3V252h-3z" fill="#ef5350"/>
<path d="M943 251h1V311h-1zM942 251h3V285h-3z" fill="#ef5350"/>
<path d="M945 277h1V334h-1zM944 284h3V300h-3z" fill="#ef5350"/>
<path d="M947 294h1V317h-1zM946 297h3V300h-3z" fill="#26a69a"/>
<path d="M949 289h1V319h-1zM948 297h3V314h-3z" fill="#ef5350"/>
<path d="M951 303h1V336h-1zM950 313h3V335h-3z" fill="#ef5350"/>
<path d="M953 312h1V353h-1zM952 320h3V335h-3z" fill="#26a69a"/>
<path d="M955 300h1V325h-1zM954 303h3V321h-3z" fill="#26a69a"/>
<path d="M957 292h1V307h-1zM956 294h3V304h-3z" fill="#26a69a"/>
<path d="M957 295h1V303h-1z" fill="#ffff00"/>
<path d="M959 292h1V298h-1zM958 294h3V295h-3z" fill="#26a69a"/>
<path d="M961 278h1V299h-1zM960 281h3V295h-3z" fill="#26a69a"/>
<path d="M963 272h1V286h-1zM962 275h3V282h-3z" fill="#26a69a"/>
<path d="M966 267h1V278h-1zM965 269h3V276h-3z" fill="#26a69a"/>
<path d="M968 265h1V277h-1zM967 269h3V273h-3z" fill="#ef5350"/>
<path d="M970 259h1V275h-1zM969 262h3V273h-3z" fill="#26a69a"/>
<path d="M972 256h1V265h-1zM971 259h3V263h-3z" fill="#26a69a"/>
<path d="M974 255h1V270h-1zM973 259h3V267h-3z" fill="#ef5350"/>
<path d="M976 257h1V268h-1zM975 261h3V267h-3z" fill="#26a69a"/>
<path d="M978 246h1V264h-1zM977 250h3V262h-3z" fill="#26a69a"/>
<path d="M980 246h1V255h-1zM979 248h3V251h-3z" fill="#26a69a"/>
<path d="M982 245h1V272h-1zM981 248h3V264h-3z" fill="#ef5350"/>
<path d="M984 256h1V275h-1zM983 263h3V274h-3z" fill="#ef5350"/>
<path d="M984 264h1V273h-1z" fill="#00ffff"/>
<path d="M986 258h1V278h-1zM985 261h3V274h-3z" fill="#26a69a"/>
<path d="M988 257h1V273h-1zM987 261h3V271h-3z" fill="#ef5350"/>
<path d="M990 250h1V277h-1zM989 255h3V271h-3z" fill="#26a69a"/>
<path d="M990 256h1V270h-1z" fill="#ffff00"/>
<path d="M992 247h1V259h-1zM991 248h3V256h-3z" fill="#26a69a"/>
<path d="M994 246h1V250h-1zM993 248h3V250h-3z" fill="#ef5350"/>
<path d="M996 233h1V252h-1zM995 237h3V250h-3z" fill="#26a69a"/>
<path d="M998 231h1V241h-1zM997 233h3V238h-3z" fill="#26a69a"/>
<path d="M1000 225h1V236h-1zM999 227h3V234h-3z" fill="#26a69a"/>
<path d="M1003 226h1V231h-1zM1002 227h3V229h-3z" fill="#ef5350"/>
<path d="M1005 220h1V232h-1zM1004 222h3V229h-3z" fill="#26a69a"/>
<path d="M1007 221h1V228h-1zM1006 222h3V226h-3z" fill="#ef5350"/>
<path d="M1009 224h1V232h-1zM1008 225h3V229h-3z" fill="#ef5350"/>
<path d="M1011 226h1V235h-1zM1010 228h3V233h-3z" fill="#ef5350"/>
<path d="M1011 229h1V232h-1z" fill="#00ffff"/>
<path d="M1013 230h1V262h-1zM1012 232h3V244h-3z" fill="#ef5350"/>
<path d="M1015 241h1V260h-1zM1014 243h3V257h-3z" fill="#ef5350"/>
<path d="M1017 232h1V267h-1zM1016 238h3V257h-3z" fill="#26a69a"/>
<path d="M1019 234h1V253h-1zM1018 238h3V240h-3z" fill="#ef5350"/>
<path d="M1021 236h1V242h-1zM1020 237h3V240h-3z" fill="#26a69a"/>
<path d="M1023 227h1V240h-1zM1022 229h3V238h-3z" fill="#26a69a"/>
<path d="M1023 230h1V237h-1z" fill="#ffff00"/>
<path d="M1025 219h1V232h-1zM1024 222h3V230h-3z" fill="#26a69a"/>
<path d="M1027 214h1V227h-1zM1026 217h3V223h-3z" fill="#26a69a"/>
<path d="M1029 215h1V220h-1zM1028 217h3V219h-3z" fill="#ef5350"/>
<path d="M1031 216h1V233h-1zM1030 218h3V231h-3z" fill="#ef5350"/>
<path d="M1033 222h1V237h-1zM1032 223h3V231h-3z" fill="#26a69a"/>
<path d="M1033 224h1V230h-1z" fill="#00ffff"/>
<path d="M1035 218h1V228h-1zM1034 220h3V224h-3z" fill="#26a69a"/>
<path d="M1037 214h1V225h-1zM1036 217h3V221h-3z" fill="#26a69a"/>
<path d="M1037 218h1V220h-1z" fill="#ffff00"/>
<path d="M1040 211h1V222h-1zM1039 212h3V218h-3z" fill="#26a69a"/>
<path d="M1042 210h1V221h-1zM1041 212h3V217h-3z" fill="#ef5350"/>
<path d="M1044 213h1V218h-1zM1043 216h3V217h-3z" fill="#26a69a"/>
<path d="M1046 212h1V220h-1zM1045 214h3V217h-3z" fill="#26a69a"/>
<path d="M1046 214h1V217h-1z" fill="#00ffff"/>
<path d="M1048 204h1V218h-1zM1047 205h3V215h-3z" fill="#26a69a"/>
<path d="M1048 206h1V214h-1z" fill="#ffff00"/>
<path d="M1050 201h1V208h-1zM1049 203h3V206h-3z" fill="#26a69a"/>
<path d="M1052 193h1V207h-1zM1051 197h3V204h-3z" fill="#26a69a"/>
<path d="M1054 191h1V199h-1zM1053 194h3V198h-3z" fill="#26a69a"/>
<path d="M1056 188h1V199h-1zM1055 190h3V195h-3z" fill="#26a69a"/>
<path d="M1058 189h1V195h-1zM1057 190h3V194h-3z" fill="#ef5350"/>
<path d="M1060 181h1V197h-1zM1059 184h3V194h-3z" fill="#26a69a"/>
<path d="M1062 183h1V193h-1zM1061 184h3V191h-3z" fill="#ef5350"/>
<path d="M1064 183h1V195h-1zM1063 184h3V191h-3z" fill="#26a69a"/>
<path d="M1066 173h1V190h-1zM1065 177h3V185h-3z" fill="#26a69a"/>
<path d="M1068 170h1V181h-1zM1067 172h3V178h-3z" fill="#26a69a"/>
<path d="M1070 166h1V175h-1zM1069 167h3V173h-3z" fill="#26a69a"/>
<path d="M1072 164h1V177h-1zM1071 167h3V175h-3z" fill="#ef5350"/>
<path d="M1074 163h1V178h-1zM1073 166h3V175h-3z" fill="#26a69a"/>
<path d="M1074 167h1V174h-1z" fill="#00ffff"/>
<path d="M1077 163h1V171h-1zM1076 165h3V167h-3z" fill="#26a69a"/>
<path d="M1079 163h1V170h-1zM1078 164h3V166h-3z" fill="#26a69a"/>
<path d="M1081 158h1V167h-1zM1080 160h3V165h-3z" fill="#26a69a"/>
<path d="M1083 154h1V163h-1zM1082 157h3V161h-3z" fill="#26a69a"/>
<path d="M1085 153h1V163h-1zM1084 157h3V160h-3z" fill="#ef5350"/>
<path d="M1087 150h1V164h-1zM1086 153h3V160h-3z" fill="#26a69a"/>
<path d="M1089 151h1V158h-1zM1088 153h3V157h-3z" fill="#ef5350"/>
<path d="M1091 151h1V171h-1zM1090 151h3V157h-3z" fill="#26a69a"/>
<path d="M1093 144h1V154h-1zM1092 147h3V152h-3z" fill="#26a69a"/>
<path d="M1095 145h1V152h-1zM1094 147h3V149h-3z" fill="#ef5350"/>
<path d="M1097 145h1V158h-1zM1096 148h3V154h-3z" fill="#ef5350"/>
<path d="M1099 141h1V156h-1zM1098 144h3V154h-3z" fill="#26a69a"/>
<path d="M1101 143h1V149h-1zM1100 144h3V148h-3z" fill="#ef5350"/>
<path d="M1103 143h1V150h-1zM1102 145h3V148h-3z" fill="#26a69a"/>
<path d="M1105 142h1V150h-1zM1104 144h3V146h-3z" fill="#26a69a"/>
<path d="M1107 142h1V150h-1zM1106 144h3V148h-3z" fill="#ef5350"/>
<path d="M1109 141h1V149h-1zM1108 144h3V148h-3z" fill="#26a69a"/>
<path d="M1111 143h1V166h-1zM1110 144h3V157h-3z" fill="#ef5350"/>
<path d="M1114 151h1V166h-1zM1113 156h3V161h-3z" fill="#ef5350"/>
<path d="M1116 143h1V166h-1zM1115 146h3V161h-3z" fill="#26a69a"/>
<path d="M1118 144h1V148h-1zM1117 146h3V147h-3z" fill="#26a69a"/>
<path d="M1120 143h1V152h-1zM1119 146h3V150h-3z" fill="#ef5350"/>
<path d="M1122 149h1V172h-1zM1121 149h3V160h-3z" fill="#ef5350"/>
<path d="M1124 156h1V172h-1zM1123 159h3V160h-3z" fill="#ef5350"/>
<path d="M1126 145h1V165h-1zM1125 148h3V160h-3z" fill="#26a69a"/>
<path d="M1128 145h1V152h-1zM1127 147h3V149h-3z" fill="#26a69a"/>
<path d="M1130 143h1V150h-1zM1129 144h3V148h-3z" fill="#26a69a"/>
<path d="M1132 142h1V155h-1zM1131 144h3V145h-3z" fill="#26a69a"/>
<path d="M1134 135h1V148h-1zM1133 138h3V145h-3z" fill="#26a69a"/>
<path d="M1136 136h1V141h-1zM1135 138h3V139h-3z" fill="#ef5350"/>
<path d="M1138 135h1V142h-1zM1137 138h3V139h-3z" fill="#ef5350"/>
<path d="M1137 137h3V140h-3z" fill="#ffa500"/>
<path d="M1140 137h1V147h-1zM1139 138h3V143h-3z" fill="#ef5350"/>
<path d="M1142 135h1V147h-1zM1141 136h3V143h-3z" fill="#26a69a"/>
<path d="M1144 131h1V138h-1zM1143 133h3V137h-3z" fill="#26a69a"/>
<path d="M1146 128h1V137h-1zM1145 129h3V134h-3z" fill="#26a69a"/>
<path d="M1148 121h1V134h-1zM1147 123h3V130h-3z" fill="#26a69a"/>
<path d="M1151 120h1V125h-1zM1150 123h3V124h-3z" fill="#ef5350"/>
<path d="M1153 120h1V126h-1zM1152 121h3V124h-3z" fill="#26a69a"/>
<path d="M1155 117h1V125h-1zM1154 119h3V122h-3z" fill="#26a69a"/>
<path d="M1157 116h1V121h-1zM1156 118h3V120h-3z" fill="#26a69a"/>
<path d="M1159 113h1V121h-1zM1158 115h3V119h-3z" fill="#26a69a"/>
<path d="M1161 114h1V119h-1zM1160 115h3V116h-3z" fill="#26a69a"/>
<path d="M1163 108h1V119h-1zM1162 111h3V116h-3z" fill="#26a69a"/>
<path d="M1165 106h1V116h-1zM1164 107h3V112h-3z" fill="#26a69a"/>
<path d="M1167 99h1V111h-1zM1166 102h3V108h-3z" fill="#26a69a"/>
<path d="M1169 98h1V105h-1zM1168 100h3V103h-3z" fill="#26a69a"/>
<path d="M1171 87h1V101h-1zM1170 90h3V101h-3z" fill="#26a69a"/>
<path d="M1173 90h1V111h-1zM1172 90h3V99h-3z" fill="#ef5350"/>
<path d="M1175 92h1V107h-1zM1174 98h3V104h-3z" fill="#ef5350"/>
<path d="M1175 99h1V103h-1z" fill="#00ffff"/>
<path d="M1177 97h1V110h-1zM1176 102h3V104h-3z" fill="#26a69a"/>
<path d="M1179 96h1V105h-1zM1178 98h3V103h-3z" fill="#26a69a"/>
<path d="M1181 95h1V101h-1zM1180 97h3V99h-3z" fill="#26a69a"/>
<path d="M1183 88h1V101h-1zM1182 91h3V98h-3z" fill="#26a69a"/>
<path d="M1183 92h1V97h-1z" fill="#ffff00"/>
<path d="M1186 84h1V95h-1zM1185 86h3V92h-3z" fill="#26a69a"/>
<path d="M1188 83h1V89h-1zM1187 85h3V87h-3z" fill="#26a69a"/>
<path d="M1190 83h1V106h-1zM1189 85h3V99h-3z" fill="#ef5350"/>
<path d="M1190 86h1V98h-1z" fill="#00ffff"/>
<path d="M1192 91h1V104h-1zM1191 95h3V99h-3z" fill="#26a69a"/>
<path d="M1194 92h1V125h-1zM1193 95h3V113h-3z" fill="#ef5350"/>
<path d="M1196 97h1V118h-1zM1195 98h3V113h-3z" fill="#26a69a"/>
<path d="M1198 91h1V101h-1zM1197 93h3V99h-3z" fill="#26a69a"/>
<path d="M1200 88h1V98h-1zM1199 90h3V94h-3z" fill="#26a69a"/>
<path d="M1200 91h1V93h-1z" fill="#ffff00"/>
<path d="M1202 83h1V91h-1zM1201 84h3V91h-3z" fill="#26a69a"/>
</g>
<g shape-rendering="crispEdges" fill="#808080"><rect x="1282" y="44" width="1" height="809"/><rect x="7" y="826" width="1331" height="1"/>
<rect x="1283" y="46" width="4" height="1"/>
<rect x="1283" y="120" width="4" height="1"/>
<rect x="1283" y="153" width="4" height="1"/>
<rect x="1283" y="182" width="4" height="1"/>
<rect x="1283" y="218" width="4" height="1"/>
<rect x="1283" y="253" width="4" height="1"/>
<rect x="1283" y="288" width="4" height="1"/>
<rect x="1283" y="321" width="4" height="1"/>
<rect x="1283" y="351" width="4" height="1"/>
<rect x="1283" y="381" width="4" height="1"/>
<rect x="1283" y="416" width="4" height="1"/>
<rect x="1283" y="449" width="4" height="1"/>
<rect x="1283" y="480" width="4" height="1"/>
<rect x="1283" y="516" width="4" height="1"/>
<rect x="1283" y="545" width="4" height="1"/>
<rect x="1283" y="580" width="4" height="1"/>
<rect x="1283" y="611" width="4" height="1"/>
<rect x="1283" y="640" width="4" height="1"/>
<rect x="1283" y="669" width="4" height="1"/>
<rect x="1283" y="699" width="4" height="1"/>
<rect x="1283" y="731" width="4" height="1"/>
<rect x="1283" y="760" width="4" height="1"/>
<rect x="1283" y="790" width="4" height="1"/>
<rect x="1283" y="820" width="4" height="1"/>
<rect x="37" y="827" width="1" height="3"/>
<rect x="136" y="827" width="1" height="3"/>
<rect x="235" y="827" width="1" height="3"/>
<rect x="333" y="827" width="1" height="3"/>
<rect x="432" y="827" width="1" height="3"/>
<rect x="531" y="827" width="1" height="3"/>
<rect x="629" y="827" width="1" height="3"/>
<rect x="728" y="827" width="1" height="3"/>
<rect x="827" y="827" width="1" height="3"/>
<rect x="925" y="827" width="1" height="3"/>
<rect x="1024" y="827" width="1" height="3"/>
<rect x="1123" y="827" width="1" height="3"/>
<rect x="1221" y="827" width="1" height="3"/>
</g>
<g clip-path="url(#cpa)" font-family="'Liberation Sans',sans-serif" font-size="11" font-weight="bold" fill="#dcdcdc" letter-spacing="-0.12">
<text x="1291.5" y="50.7">3600.00</text>
<text x="1291.5" y="124.7">2400.00</text>
<text x="1291.5" y="157.7">2000.00</text>
<text x="1291.5" y="186.7">1700.00</text>
<text x="1291.5" y="222.7">1400.00</text>
<text x="1291.5" y="257.7">1150.00</text>
<text x="1291.5" y="292.7">950.00</text>
<text x="1291.5" y="325.7">790.00</text>
<text x="1291.5" y="355.7">670.00</text>
<text x="1291.5" y="385.7">570.00</text>
<text x="1291.5" y="420.7">470.00</text>
<text x="1291.5" y="453.7">390.00</text>
<text x="1291.5" y="484.7">330.00</text>
<text x="1291.5" y="520.7">270.00</text>
<text x="1291.5" y="549.7">230.00</text>
<text x="1291.5" y="584.7">190.00</text>
<text x="1291.5" y="615.7">160.00</text>
<text x="1291.5" y="644.7">136.00</text>
<text x="1291.5" y="673.7">116.00</text>
<text x="1291.5" y="703.7">98.50</text>
<text x="1291.5" y="735.7">82.50</text>
<text x="1291.5" y="764.7">70.50</text>
<text x="1291.5" y="794.7">59.50</text>
<text x="1291.5" y="824.7">50.50</text>
</g>
<rect x="1282" y="76" width="56" height="17" fill="#26a69a"/>
<rect x="1282" y="84" width="4" height="1" fill="#fff" shape-rendering="crispEdges"/>
<text x="1291.5" y="88.7" font-family="'Liberation Sans',sans-serif" font-size="11" fill="#fff" letter-spacing="-0.2">2929.40</text>
<g font-family="'Liberation Sans',sans-serif" font-size="11.5" font-weight="bold" fill="#dcdcdc" text-anchor="middle" letter-spacing="-0.15">
<text x="37.1" y="845.2">1972</text>
<text x="136.1" y="845.2">1976</text>
<text x="235.1" y="845.2">1980</text>
<text x="333.1" y="845.2">1984</text>
<text x="432.1" y="845.2">1988</text>
<text x="531.1" y="845.2">1992</text>
<text x="629.1" y="845.2">1996</text>
<text x="728.1" y="845.2">2000</text>
<text x="827.1" y="845.2">2004</text>
<text x="925.1" y="845.2">2008</text>
<text x="1024.1" y="845.2">2012</text>
<text x="1123.1" y="845.2">2016</text>
<text x="1221.1" y="845.2">2020</text>
</g>
<path d="M943.4 372.2A17 17 0 0 1 967.6 372.2L1033.0 438.1A11 11 0 0 1 1033.0 453.6L1020.7 465.9A11 11 0 0 1 1005.2 465.8L975.9 436.4L975.9 506.2A13 13 0 0 1 962.9 519.2L948.1 519.2A13 13 0 0 1 935.1 506.2L935.1 436.4L905.8 465.8A11 11 0 0 1 890.3 465.9L878.0 453.6A11 11 0 0 1 878.0 438.1Z" fill="#ff0000"/>
<g font-family="'DejaVu Sans','Liberation Sans',sans-serif" font-size="28" fill="#ff0000"><text x="861.8" y="566" letter-spacing="0.26">WHEN THE</text><text x="861.8" y="594" letter-spacing="-0.1">ECONOMY</text><text x="861.8" y="622" letter-spacing="0.62">ALMOST DIED</text></g>
</svg>
<svg width="1345" height="890" viewBox="0 0 1345 890" style="position:absolute;left:0;top:0;pointer-events:none">
<path d="M126 25h11l-5.5 11z" fill="#aa0000"/>
<g id="logo" fill="#57c1e6"><circle cx="85.4" cy="873.6" r="3.7"/><circle cx="92.9" cy="870.36" r="5.8"/><circle cx="99.7" cy="870.1" r="2.5"/><circle cx="102.27" cy="875.42" r="3.54"/><path d="M85.4 873.6L92.9 870.4L99.7 870.1L102 870.6L102.3 875.4V878.96H85.2Q83 878.9 82.2 876z"/><path d="M81.6 877.2L90.4 870.1L96.1 876.4L103.2 869.2" fill="none" stroke="#fff" stroke-width="1.8" stroke-linejoin="round"/></g>
</svg>
</body></html>
